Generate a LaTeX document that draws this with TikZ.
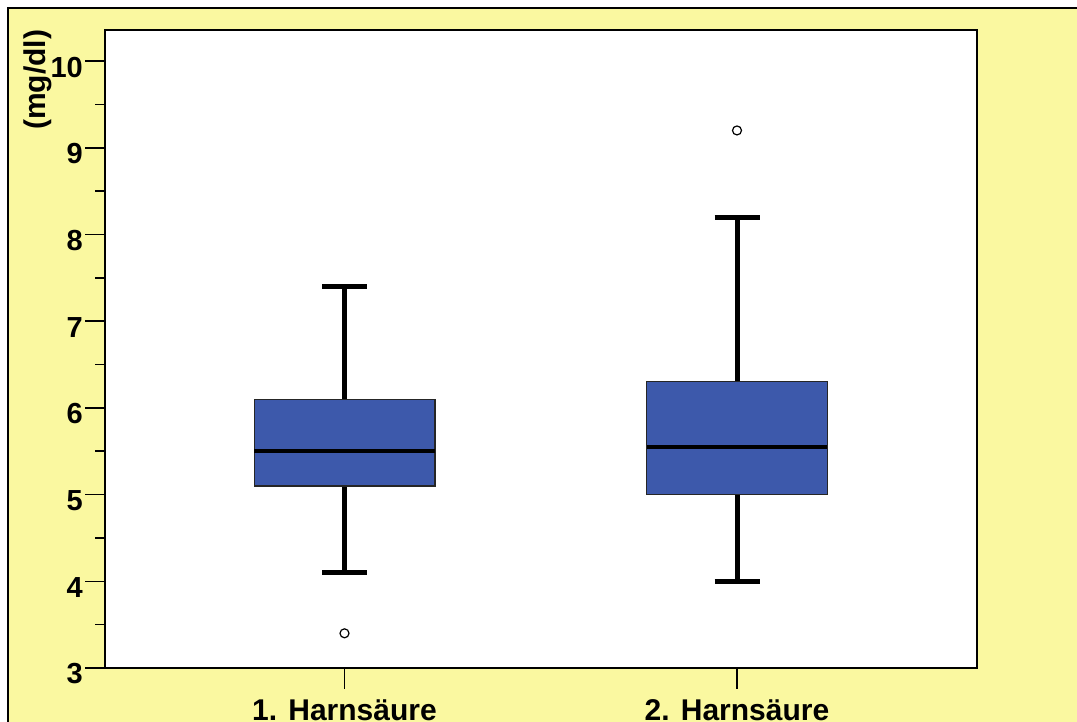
\documentclass[tikz,border=0pt]{standalone}
\usepackage{fontspec}
\setmainfont{Liberation Sans}
\usepackage{xcolor}
\usepackage{tikz}
\usetikzlibrary{calc}
\definecolor{paper}{HTML}{FAF8A0}
\definecolor{boxblue}{HTML}{3D59AB}
\tikzset{
  frame/.style={draw=black, line width=1.8pt},
  whisk/.style={draw=black, line width=5pt},
  med/.style={draw=black, line width=4pt},
  bx/.style={fill=boxblue, draw=black!85, line width=1.2pt},
  tk/.style={draw=black, line width=1.5pt},
  lbl/.style={font=\fontsize{30}{34}\selectfont\bfseries, inner sep=0pt},
  num/.style={font=\fontsize{29}{33}\selectfont\bfseries, inner sep=0pt, anchor=east, yshift=-6pt},
  outl/.style={circle, draw=black, fill=white, line width=1.2pt, inner sep=0pt, minimum size=9pt}
}

\begin{document}
\begin{tikzpicture}[x=1pt,y=1pt]
\useasboundingbox (0,0) rectangle (1077,722);
\clip (0,0) rectangle (1077,722);
\fill[white] (0,0) rectangle (1077,722);
\filldraw[fill=paper, draw=black, line width=2pt] (8,714) rectangle (1100,-20);
\fill[white] (105,54) rectangle (976.7,692);

\begin{scope}[yshift=-206.1pt, y=86.7pt]
% y axis ticks
\draw[tk] (85,3)--(105,3) (85,4)--(105,4) (85,5)--(105,5) (85,6)--(105,6)
  (85,7)--(105,7) (85,8)--(105,8) (85,9)--(105,9) (85,10)--(105,10);
\draw[tk] (95,3.5)--(105,3.5) (95,4.5)--(105,4.5) (95,5.5)--(105,5.5) (95,6.5)--(105,6.5)
  (95,7.5)--(105,7.5) (95,8.5)--(105,8.5) (95,9.5)--(105,9.5);
\node[num] (y3) at (83,3) {3};
\node[num] (y4) at (83,4) {4};
\node[num] (y5) at (83,5) {5};
\node[num] (y6) at (83,6) {6};
\node[num] (y7) at (83,7) {7};
\node[num] (y8) at (83,8) {8};
\node[num] (y9) at (83,9) {9};
\node[num] (y10) at (83,10) {10};

% first box
\coordinate (L1) at (344.5,4.1);
\coordinate (H1) at (344.5,7.4);
\draw[whisk] (L1)--(H1);
\draw[whisk] ($(L1)+(-22.5,0)$)--($(L1)+(22.5,0)$);
\draw[whisk] ($(H1)+(-22.5,0)$)--($(H1)+(22.5,0)$);
\filldraw[bx] (254.3,5.1) rectangle (435,6.1);
\draw[med] (254.3,5.5)--(435,5.5);
\node[outl] (o1) at (344.5,3.4) {};

% second box
\coordinate (L2) at (737,4.0);
\coordinate (H2) at (737,8.2);
\draw[whisk] (L2)--(H2);
\draw[whisk] ($(L2)+(-22.5,0)$)--($(L2)+(22.5,0)$);
\draw[whisk] ($(H2)+(-22.5,0)$)--($(H2)+(22.5,0)$);
\filldraw[bx] (646.7,5.0) rectangle (827.3,6.3);
\draw[med] (646.7,5.55)--(827.3,5.55);
\node[outl] (o2) at (737,9.2) {};
\end{scope}

\draw[frame] (105,54) rectangle (976.7,692);
\draw[tk] (344.5,54)--(344.5,33) (737,54)--(737,33);

\node[lbl, rotate=90] (ttl) at (38,642) {(mg/dl)};
\node[lbl, anchor=base] (c1) at (344.5,1) {1. Harnsäure};
\node[lbl, anchor=base] (c2) at (737,1) {2. Harnsäure};
\end{tikzpicture}
\end{document}
